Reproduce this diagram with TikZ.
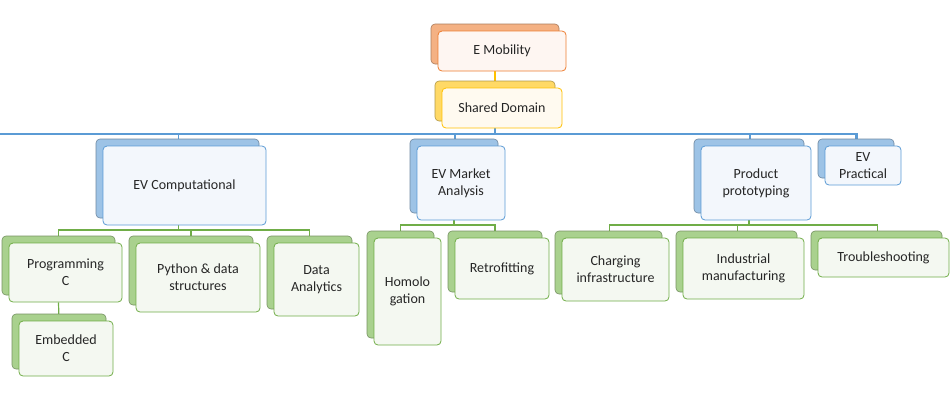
\documentclass[tikz,border=0pt]{standalone}
\usepackage{fontspec}
\setmainfont{Carlito}
\usetikzlibrary{shadows,backgrounds}
\definecolor{oB}{HTML}{F4B183}\definecolor{oD}{HTML}{ED7D31}\definecolor{oF}{HTML}{FEF6F2}
\definecolor{yB}{HTML}{FFD966}\definecolor{yD}{HTML}{FFC000}\definecolor{yF}{HTML}{FFFAF0}
\definecolor{bB}{HTML}{9DC3E6}\definecolor{bD}{HTML}{5B9BD5}\definecolor{bF}{HTML}{F3F7FC}
\definecolor{gB}{HTML}{A9D18E}\definecolor{gD}{HTML}{70AD47}\definecolor{gF}{HTML}{F4F8F1}
\tikzset{
 box/.style n args={3}{draw=#2, fill=#3, rounded corners=4pt, line width=0.8pt, align=center,
   font=\fontsize{14}{17}\selectfont, text=black!85, inner sep=1pt,
   general shadow={shadow xshift=-7pt, shadow yshift=7pt, fill=#1, draw=#1!70!black, line width=0.6pt}},
 ob/.style={box={oB}{oD}{oF}}, yb/.style={box={yB}{yD}{yF}},
 bb/.style={box={bB}{bD}{bF}}, gb/.style={box={gB}{gD}{gF}},
 wh/.style args={#1x#2}{minimum width=#1pt, minimum height=#2pt},
 lnB/.style={draw=bD, line width=1.2pt}, lnG/.style={draw=gD, line width=1.2pt}, lnY/.style={draw=yD, line width=1.2pt}
}
\begin{document}
\begin{tikzpicture}[x=1pt,y=-1pt]
\useasboundingbox (0,0) rectangle (950,400);
\node[ob,wh=128x40] (emob) at (502,51) {E Mobility};
\node[yb,wh=120x40] (shared) at (502,108) {Shared Domain};
\node[bb,wh=163x79] (evc) at (184.5,185.5) {EV Computational};
\node[bb,wh=88x74] (evm) at (461,183) {EV Market\\Analysis};
\node[bb,wh=110x74] (prod) at (756,183) {Product\\prototyping};
\node[bb,wh=76x39] (evp) at (863,165.5) {EV\\Practical};
\node[gb,wh=113x59] (prog) at (65.5,272.5) {Programming\\C};
\node[gb,wh=124x69] (py) at (198,277.5) {Python \& data\\structures};
\node[gb,wh=85x73] (data) at (316.5,279.5) {Data\\Analytics};
\node[gb,wh=94x55] (emb) at (66,348.5) {Embedded\\C};
\node[gb,wh=67x107] (homo) at (407.5,291.5) {Homolo\\gation};
\node[gb,wh=94x61] (retro) at (502,268.5) {Retrofitting};
\node[gb,wh=107x63] (charg) at (615.5,269.5) {Charging\\infrastructure};
\node[gb,wh=121x61] (indus) at (743.5,268.5) {Industrial\\manufacturing};
\node[gb,wh=131x39] (trou) at (883.5,257.5) {Troubleshooting};
\begin{pgfonlayer}{background}
\draw[lnY] ([xshift=-7pt]emob.south) -- ([xshift=-7pt]shared.north);
\foreach \c in {evc,evm,prod,evp}
  \draw[lnB] ([xshift=-7pt]shared.south) |- (0,134) -| ([xshift=-6pt]\c.north);
\draw[lnB] ([xshift=-7pt]shared.south) -- ++(0,6) -| ([xshift=-7pt]evp.north);
\foreach \c in {prog,py,data}
  \draw[lnG] ([xshift=-6pt]evc.south) -- ([xshift=-6pt]evc.south |- 0,230) -| ([xshift=-7pt]\c.north);
\draw[lnG] ([xshift=-7pt]prog.south) -- ([xshift=-7pt]emb.north);
\foreach \c in {homo,retro}
  \draw[lnG] ([xshift=-7pt]evm.south) -- ([xshift=-7pt]evm.south |- 0,225) -| ([xshift=-7pt]\c.north);
\foreach \c in {charg,indus,trou}
  \draw[lnG] ([xshift=-7pt]prod.south) -- ([xshift=-7pt]prod.south |- 0,225) -| ([xshift=-6pt]\c.north);
\end{pgfonlayer}
\end{tikzpicture}
\end{document}
